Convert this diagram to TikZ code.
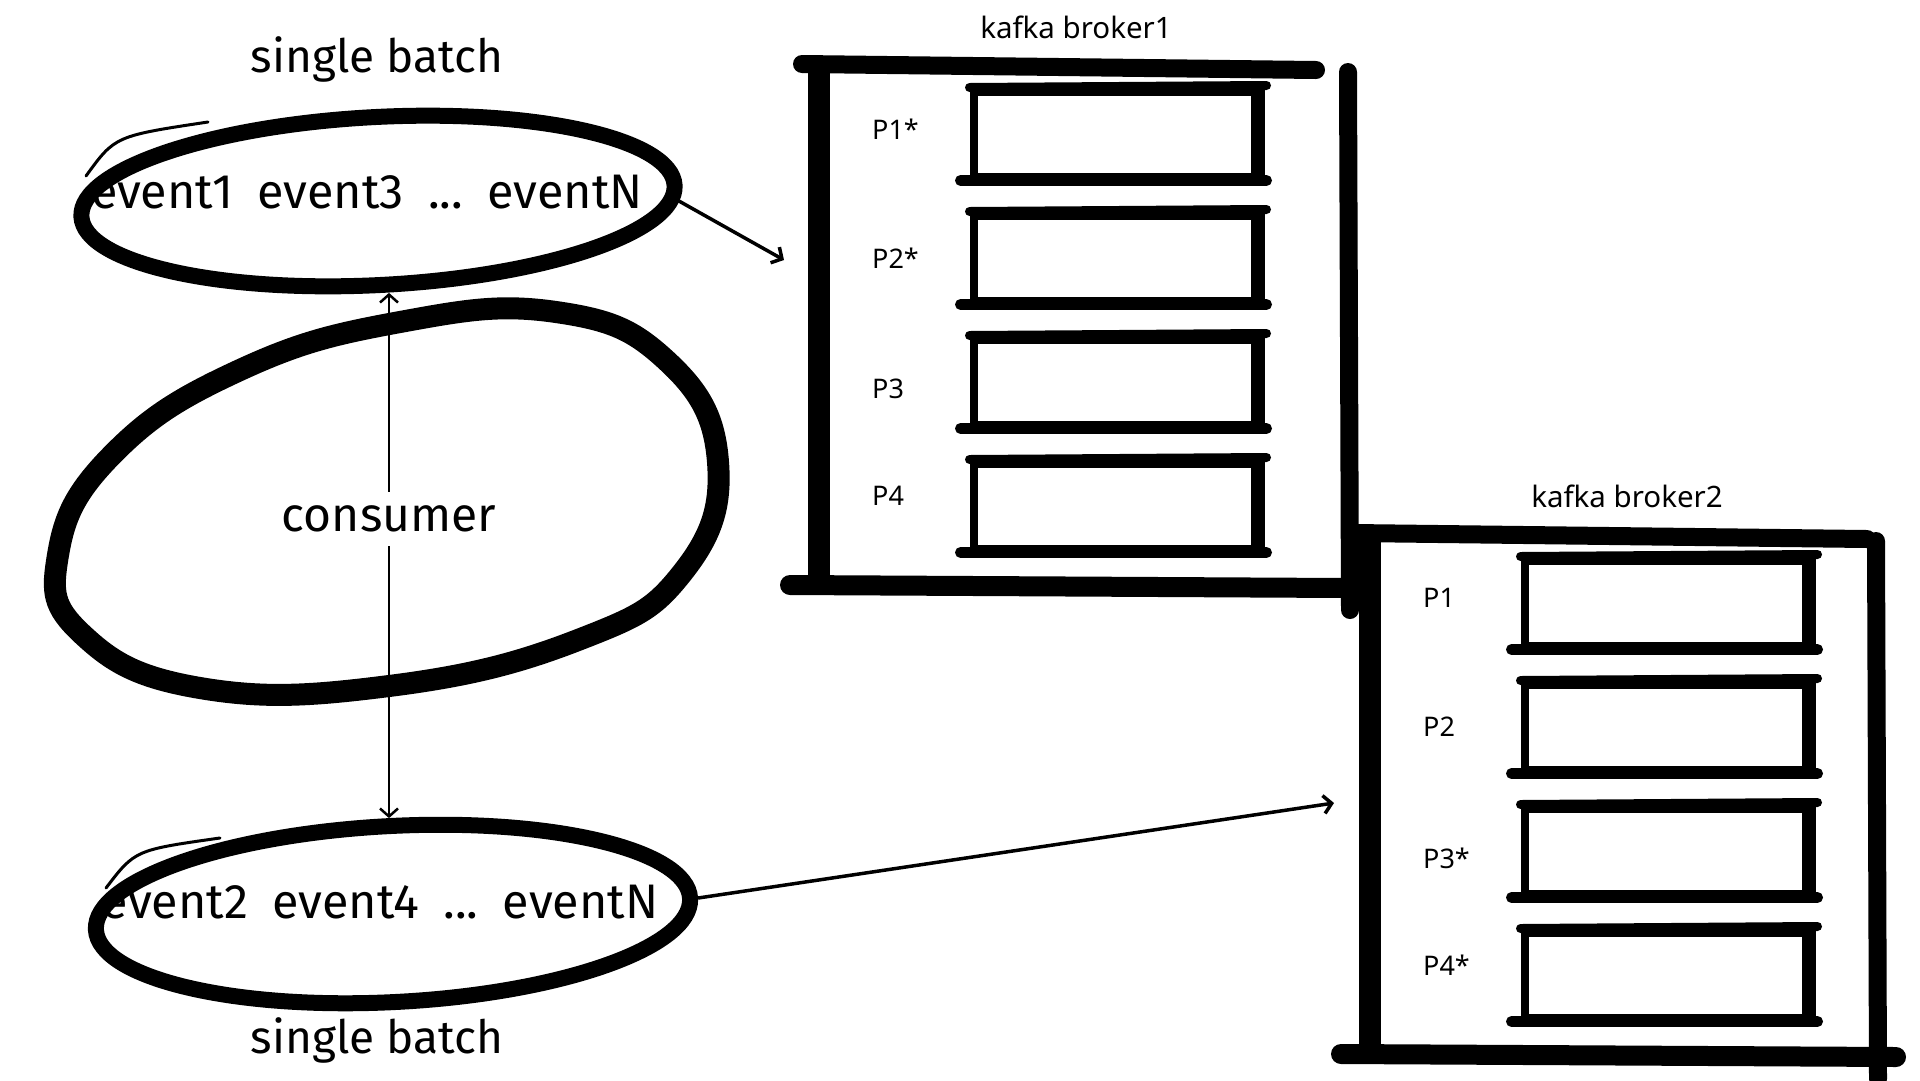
\documentclass[tikz,border=0pt]{standalone}
\usepackage{fontspec}
\setmainfont{Fira Sans}
\newfontfamily\notefont{Noto Sans}
\usetikzlibrary{arrows.meta,shapes.geometric}

\tikzset{
  bigtext/.style={font=\fontsize{46}{55}\selectfont, inner sep=0pt},
  eventtext/.style={font=\fontsize{48.5}{58}\selectfont, inner sep=0pt},
  smalltext/.style={font=\notefont\fontsize{27}{32}\selectfont, inner sep=0pt},
  ring/.style={ellipse, draw, line width=16pt, rotate=3},
  slot/.style={draw, line width=8pt, minimum width=281pt, minimum height=85pt, inner sep=0pt},
  brush/.style={line width=#1, line cap=round},
  link/.style={line width=3.5pt, -{Straight Barb[length=8pt,width=18pt]}},
}

\begin{document}
\begin{tikzpicture}[x=1pt,y=1pt]
\useasboundingbox (0,0) rectangle (1920,-1080);

% first batch
\node[bigtext] (lblA) at (377,-59) {single batch};
\node[ring, minimum width=594pt, minimum height=168pt] (ringA) at (378,-201) {};
\draw[brush=3pt] (86,-176) .. controls (115,-136) .. (208,-122);
\node[eventtext] (evA) at (367,-192) {event1\enspace event3\enspace ...\enspace eventN};

% consumer
\draw[brush=22pt] plot[smooth cycle, tension=0.75] coordinates {(400,-322) (556,-312) (667,-361) (718,-462) (683,-572) (578,-640) (389,-686) (200,-688) (82,-634) (58,-555) (112,-455) (240,-370)};
\node[font=\fontsize{48}{58}\selectfont, inner ysep=14pt, inner xsep=4pt] (cons) at (389,-519) {consumer};

% second batch
\node[ring, minimum width=595pt, minimum height=176pt] (ringB) at (393,-914) {};
\draw[brush=3pt] (106,-888) .. controls (135,-850) .. (220,-838);
\node[eventtext] (evB) at (380,-902) {event2\enspace event4\enspace ...\enspace eventN};
\node[bigtext] (lblB) at (377,-1040) {single batch};

\draw[link, line width=2.5pt] (cons.north) -- (cons.north |- ringA.south);
\draw[link, line width=2.5pt] (cons.south) -- (cons.south |- ringB.north);

% brokers
\foreach \bn/\dx/\dy/\rx/\pa/\pb/\pc/\pd in {1/0/0/1348/P1*/P2*/P3/P4, 2/551/-469/1325/P1/P2/P3*/P4*}{
  \begin{scope}[shift={(\dx,\dy)}]
    \node[smalltext, font=\notefont\fontsize{29.5}{35}\selectfont] (kb\bn) at (1076,-27) {kafka broker\bn};
    \draw[brush=18pt] (802,-64) -- (1316,-70);
    \draw[brush=22pt] (819,-66) -- (819,-576);
    \draw[brush=20pt] (790,-585) -- (1345,-588);
    \draw[brush=18pt] (\rx,-72) -- (\rx+2,-610);
    \foreach \i/\pn/\py in {0/\pa/129, 1/\pb/258, 2/\pc/389, 3/\pd/496}{
      \node[slot] (b\bn-s\i) at (1114,-134-124*\i) {};
      \draw[brush=9pt] (b\bn-s\i.north west) -- ([xshift=8pt,yshift=2pt]b\bn-s\i.north east);
      \draw[brush=11pt] ([xshift=-9pt]b\bn-s\i.south west) -- ([xshift=8pt]b\bn-s\i.south east);
      \draw[line width=12pt] (b\bn-s\i.north east) -- (b\bn-s\i.south east);
      \node[smalltext, anchor=west] (b\bn-p\i) at (872,-\py) {\pn};
    }
  \end{scope}
}

\coordinate (b1in) at (784,-260);
\coordinate (b2in) at (1334,-803);
\draw[link] (ringA.-3) -- (b1in);
\draw[link] (ringB.east) -- (b2in);
\end{tikzpicture}
\end{document}
